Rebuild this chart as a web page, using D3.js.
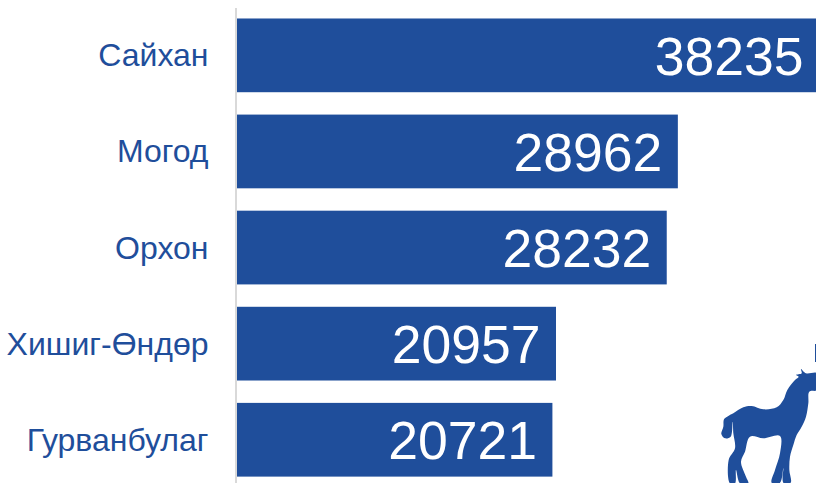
<!DOCTYPE html>
<html><head><meta charset="utf-8">
<script src="https://cdn.jsdelivr.net/npm/d3@7/dist/d3.min.js"></script>
<style>html,body{margin:0;padding:0;background:#fff;overflow:hidden}svg{display:block}</style>
</head><body><svg id="c" width="816" height="483"></svg>
<script>
const categories = ["Сайхан","Могод","Орхон","Хишиг-Өндөр","Гурванбулаг"];
const values = [38235,28962,28232,20957,20721];
const blue = "#1f4e9b";
const svg = d3.select("#c").style("font-family","'Liberation Sans',Arial,sans-serif");
const x = d3.scaleLinear().domain([0,38235]).range([237,819]);
const y = d3.scaleBand().domain(categories).range([7.3,487.8]).paddingInner(0.2328).paddingOuter(0.1164);

svg.selectAll("rect.bar").data(values).join("rect").attr("class","bar")
  .attr("x",x(0)).attr("y",(d,i)=>y(categories[i]))
  .attr("width",d=>x(d)-x(0)).attr("height",y.bandwidth()).attr("fill",blue);

svg.append("line").attr("x1",236).attr("x2",236).attr("y1",8).attr("y2",483)
  .attr("stroke","#d9d9d9").attr("stroke-width",2);

svg.selectAll("text.cat").data(categories).join("text").attr("class","cat")
  .attr("x",208.5).attr("y",d=>y(d)+y.bandwidth()/2+11)
  .attr("text-anchor","end").attr("font-size",32).attr("fill",blue).text(d=>d);

svg.selectAll("text.val").data(values).join("text").attr("class","val")
  .attr("x",d=>x(d)-15.5).attr("y",(d,i)=>y(categories[i])+y.bandwidth()/2+19.5)
  .attr("text-anchor","end").attr("font-size",53.5).attr("fill","#fff").text(d=>d);

// horse silhouette decoration
const body = [[303,147],[318,160],[352,160],[352,210],[328,215],[325,250],[318,290],[305,320],[290,345],[280,375],[270,410],[268,450],[272,488],[250,488],[250,445],[240,488],[215,488],[225,450],[240,400],[240,348],[190,355],[150,350],[135,395],[123,425],[138,470],[145,490],[120,490],[108,450],[105,490],[90,490],[86,420],[105,385],[100,340],[98,305],[92,350],[75,355],[64,342],[70,320],[72,298],[85,288],[100,280],[130,262],[155,258],[190,268],[230,262],[250,240],[262,210],[285,180],[296,170],[288,165],[305,160]];
svg.append("path").attr("fill",blue)
  .attr("d",d3.line().x(p=>700+p[0]/3).y(p=>320+p[1]/3).curve(d3.curveCatmullRomClosed.alpha(0.5))(body));
svg.append("rect").attr("x",815).attr("y",344).attr("width",1).attr("height",18).attr("fill",blue);
</script></body></html>
